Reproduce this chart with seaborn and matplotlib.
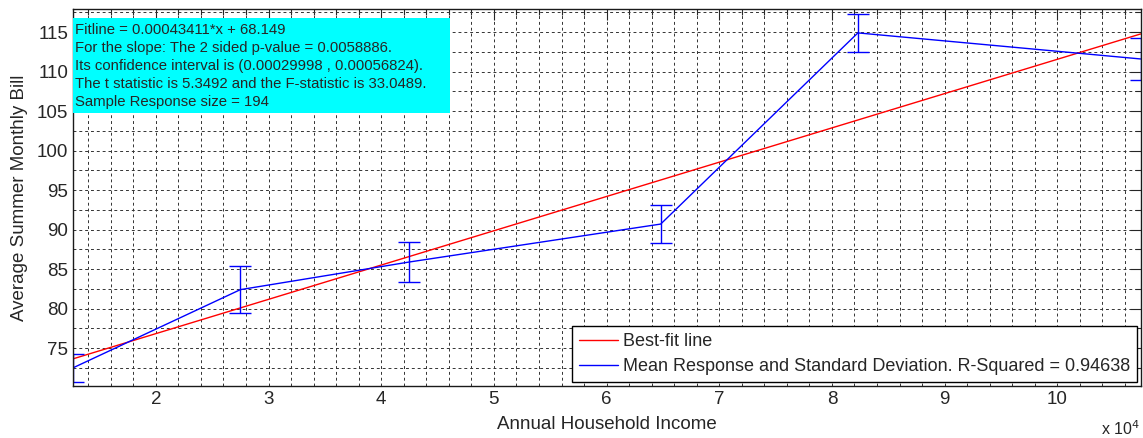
import numpy as np
import pandas as pd
import seaborn as sns
import matplotlib
matplotlib.use('Agg')
import matplotlib.pyplot as plt
from matplotlib.patches import Rectangle
from matplotlib.ticker import MultipleLocator, FuncFormatter

# mean response per income group
income = [12650, 27500, 42500, 64800, 82300, 107400]
mean_bill = [72.5, 82.4, 85.9, 90.7, 114.9, 111.6]
std_bill = [1.8, 2.95, 2.5, 2.4, 2.4, 2.7]

# best-fit line end points
fit_x = [12650, 107400]
fit_y = [73.64, 114.77]

info_lines = [
    'Fitline = 0.00043411*x + 68.149',
    'For the slope: The 2 sided p-value = 0.0058886.',
    'Its confidence interval is (0.00029998 , 0.00056824).',
    'The t statistic is 5.3492 and the F-statistic is 33.0489.',
    'Sample Response size = 194',
]

sns.set_style('white')
plt.rcParams['font.family'] = ['Liberation Sans', 'DejaVu Sans']

fig = plt.figure(figsize=(11.43, 4.38), dpi=100)
ax = fig.add_axes([0.0639, 0.1187, 0.9341, 0.8603])

fit_df = pd.DataFrame({'x': fit_x, 'y': fit_y})
mean_df = pd.DataFrame({'x': income, 'y': mean_bill})

sns.lineplot(data=fit_df, x='x', y='y', color='#ff0000', linewidth=1.0, ax=ax,
             label='Best-fit line', sort=False)
sns.lineplot(data=mean_df, x='x', y='y', color='#0000ff', linewidth=1.0, ax=ax,
             label='Mean Response and Standard Deviation. R-Squared = 0.94638', sort=False)
ax.errorbar(income, mean_bill, yerr=std_bill, fmt='none', ecolor='#0000ff',
            elinewidth=1.0, capsize=8, capthick=1.0, clip_on=True)

ax.set_xlim(12650, 107400)
ax.set_ylim(70.2, 117.9)

ax.xaxis.set_major_locator(MultipleLocator(10000))
ax.xaxis.set_minor_locator(MultipleLocator(2000))
ax.yaxis.set_major_locator(MultipleLocator(5))
ax.yaxis.set_minor_locator(MultipleLocator(2.5))
ax.xaxis.set_major_formatter(FuncFormatter(lambda v, p: '%g' % (v / 1e4)))

ax.grid(which='both', color='0.2', linestyle=(0, (3, 3)), linewidth=0.7)
ax.tick_params(which='both', direction='in', top=True, right=True, labelsize=13.5)
ax.tick_params(which='major', length=8, width=0.8)
ax.tick_params(which='minor', length=4, width=0.8)
for s in ax.spines.values():
    s.set_color('0.1')
    s.set_linewidth(1.0)

ax.set_xlabel('Annual Household Income', fontsize=13.5, labelpad=6)
ax.set_ylabel('Average Summer Monthly Bill', fontsize=13.5, labelpad=6)

fig.text(0.963, 0.0, 'x 10$^{4}$', fontsize=11.5, ha='left', va='bottom')

# cyan info box in the upper left
ax.add_patch(Rectangle((0.0, 0.724), 0.353, 0.252, transform=ax.transAxes,
                       facecolor='#00ffff', edgecolor='none', zorder=3))
ax.text(0.002, 0.963, '\n'.join(info_lines), transform=ax.transAxes, fontsize=10.7,
        va='top', ha='left', linespacing=1.37, zorder=4)

leg = ax.legend(loc='lower right', fontsize=13, frameon=True, fancybox=False,
                edgecolor='black', framealpha=1, handlelength=2.15,
                borderaxespad=0.2, borderpad=0.4, labelspacing=0.45, handletextpad=0.25)
leg.get_frame().set_linewidth(1.0)

fig.savefig('out.png', dpi=100)
